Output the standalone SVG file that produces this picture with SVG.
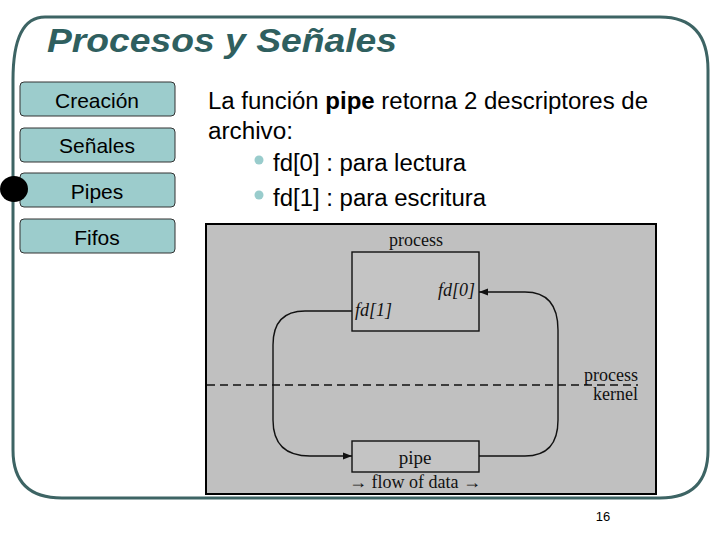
<svg xmlns="http://www.w3.org/2000/svg" width="720" height="540" viewBox="0 0 720 540">
<defs>
<style>
.frame{fill:none;stroke:#3d6464;stroke-width:3}
.btn rect{fill:#9ccccc;stroke:#333;stroke-width:1}
.btn text{font-family:"Liberation Sans",Arial,sans-serif;font-size:21px;fill:#000;text-anchor:middle}
.body{font-family:"Liberation Sans",Arial,sans-serif;font-size:23px;fill:#000}
.ser{font-family:"Liberation Serif","Times New Roman",serif;fill:#111}
.wire{fill:none;stroke:#111;stroke-width:1.4}
</style>
<marker id="ah" viewBox="0 0 10 10" refX="10" refY="5" markerWidth="16" markerHeight="9" markerUnits="userSpaceOnUse" orient="auto">
<path d="M0,1 L10,5 L0,9 z" fill="#111"/>
</marker>
</defs>
<rect width="720" height="540" fill="#fff"/>
<path class="frame" d="M45,17 L660,17 Q708,17 708,70 L708,450 Q708,498 660,498 L62,498 Q13,498 13,450 L13,80 Q13,17 45,17 Z"/>
<text x="47" y="52" font-family="Liberation Sans,Arial,sans-serif" font-size="33" font-weight="bold" font-style="italic" fill="#2f5f5f" textLength="350" lengthAdjust="spacingAndGlyphs">Procesos y Señales</text>
<g id="btn-creacion" class="btn"><rect x="20" y="82" width="155" height="34" rx="4"/><text x="97" y="108">Creación</text></g>
<g id="btn-senales" class="btn"><rect x="20" y="128" width="155" height="34" rx="4"/><text x="97" y="153">Señales</text></g>
<g id="btn-pipes" class="btn"><rect x="20" y="173" width="155" height="34" rx="4"/><text x="97" y="199">Pipes</text></g>
<g id="btn-fifos" class="btn"><rect x="20" y="219" width="155" height="34" rx="4"/><text x="97" y="245">Fifos</text></g>
<ellipse cx="14" cy="189" rx="14" ry="13" fill="#000"/>
<g id="body-text">
<text class="body" x="208" y="109" textLength="440" lengthAdjust="spacingAndGlyphs">La función <tspan font-weight="bold">pipe</tspan> retorna 2 descriptores de</text>
<text class="body" x="208" y="139" textLength="85" lengthAdjust="spacingAndGlyphs">archivo:</text>
<circle cx="259" cy="160" r="4.5" fill="#99cccc"/>
<text class="body" x="273" y="171" textLength="193" lengthAdjust="spacingAndGlyphs">fd[0] : para lectura</text>
<circle cx="259" cy="195" r="4.5" fill="#99cccc"/>
<text class="body" x="273" y="206" textLength="213" lengthAdjust="spacingAndGlyphs">fd[1] : para escritura</text>
</g>
<g id="figure">
<rect x="206" y="224" width="450" height="270" fill="#c0c0c0" stroke="#000" stroke-width="2"/>
<line x1="207" y1="385" x2="638" y2="385" stroke="#111" stroke-width="1.4" stroke-dasharray="8,5"/>
<g id="process-box">
<rect x="352" y="252" width="127" height="79" fill="#c4c4c4" stroke="#111" stroke-width="1.4"/>
<text class="ser" x="416" y="246" font-size="18" text-anchor="middle">process</text>
<text class="ser" x="475" y="296" font-size="18" font-style="italic" text-anchor="end">fd[0]</text>
<text class="ser" x="355" y="316" font-size="18" font-style="italic">fd[1]</text>
</g>
<g id="pipe-box">
<rect x="352" y="441" width="127" height="31" fill="#c4c4c4" stroke="#111" stroke-width="1.4"/>
<text class="ser" x="415" y="464" font-size="19" text-anchor="middle">pipe</text>
<text class="ser" x="415" y="488" font-size="18" text-anchor="middle">→ flow of data →</text>
</g>
<text class="ser" x="638" y="381" font-size="18" text-anchor="end">process</text>
<text class="ser" x="638" y="400" font-size="18" text-anchor="end">kernel</text>
<g id="connectors">
<path class="wire" d="M352,311 L305,311 Q273,311 273,345 L273,420 Q273,456 310,456 L352,456" marker-end="url(#ah)"/>
<path class="wire" d="M479,456 L525,456 Q558,456 558,420 L558,330 Q558,292 525,292 L479,292" marker-end="url(#ah)"/>
</g>
</g>
<text x="603" y="521" font-family="Liberation Sans,Arial,sans-serif" font-size="13" text-anchor="middle" fill="#000">16</text>
</svg>
